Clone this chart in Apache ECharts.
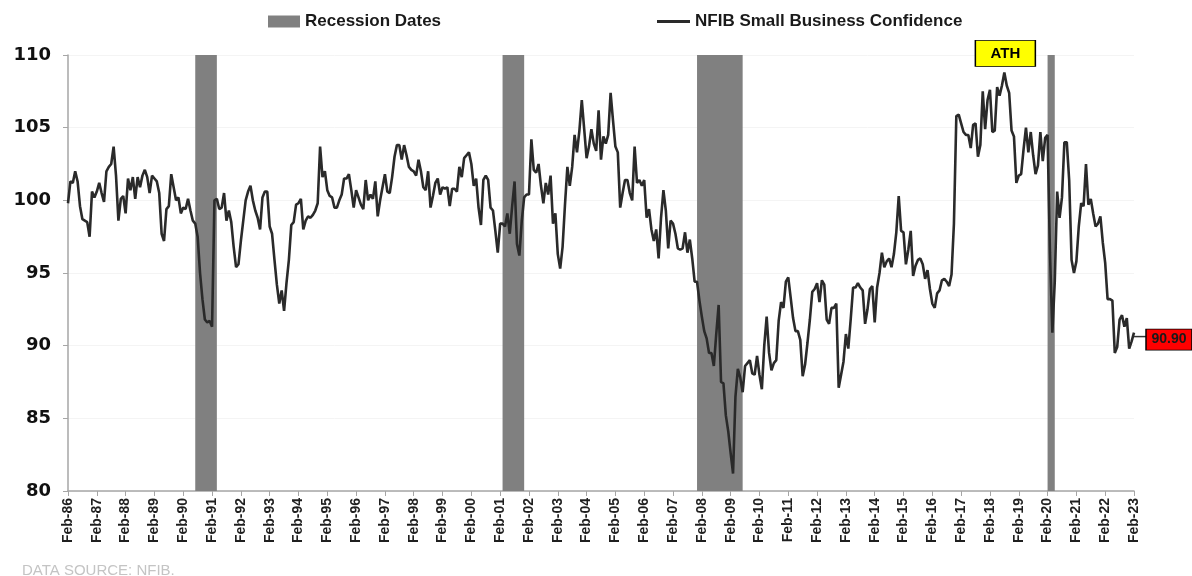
<!DOCTYPE html>
<html>
<head>
<meta charset="utf-8">
<script src="https://cdn.jsdelivr.net/npm/echarts@6/dist/echarts.min.js"></script>
<style>
html,body{margin:0;padding:0;background:#fff;}
#chart{width:1192px;height:576px;}
</style>
</head>
<body>
<div id="chart"></div>
<script>
// NFIB Small Business Confidence, monthly, Feb-86 .. Feb-23
const y1986 = [99.8, 101.3, 101.2, 102.0, 101.3, 99.6, 98.7, 98.6, 98.5, 97.5, 100.6]; // Feb-Dec
const y1987 = [100.2, 100.6, 101.2, 100.5, 99.9, 102.0, 102.3, 102.5, 103.7, 101.7, 98.6, 100.1];
const y1988 = [100.3, 99.1, 101.5, 100.7, 101.6, 100.1, 101.6, 100.9, 101.7, 102.1, 101.6, 100.5];
const y1989 = [101.7, 101.5, 101.3, 100.5, 97.7, 97.2, 99.4, 99.6, 101.8, 100.9, 100.0, 100.2];
const y1990 = [99.1, 99.5, 99.4, 100.1, 99.3, 98.6, 98.4, 97.5, 95.0, 93.2, 91.8, 91.6];
const y1991 = [91.7, 91.3, 100.0, 100.1, 99.4, 99.5, 100.5, 98.6, 99.3, 98.5, 96.8, 95.4];
const y1992 = [95.6, 97.2, 98.6, 100.0, 100.6, 101.0, 100.0, 99.3, 98.8, 98.0, 100.2, 100.6];
const y1993 = [100.6, 98.2, 97.7, 95.9, 94.2, 92.9, 93.8, 92.4, 94.3, 95.9, 98.3, 98.5];
const y1994 = [99.7, 99.8, 100.1, 98.0, 98.6, 98.9, 98.8, 99.0, 99.3, 99.8, 103.7, 101.6];
const y1995 = [102.0, 100.7, 100.3, 100.2, 99.5, 99.5, 100.0, 100.4, 101.5, 101.5, 101.8, 100.7];
const y1996 = [99.5, 100.7, 100.2, 99.7, 99.4, 101.4, 100.0, 100.4, 100.1, 101.3, 98.9, 100.0];
const y1997 = [100.9, 101.8, 100.6, 100.5, 101.6, 103.0, 103.8, 103.8, 102.8, 103.8, 103.1, 102.3];
const y1998 = [102.1, 102.0, 101.7, 102.8, 102.0, 100.9, 100.7, 102.0, 99.5, 100.3, 101.2, 101.5];
const y1999 = [100.4, 100.9, 100.8, 100.9, 99.6, 100.8, 100.8, 100.6, 102.3, 101.6, 102.9, 103.1];
const y2000 = [103.3, 102.5, 101.0, 101.5, 99.5, 98.3, 101.4, 101.7, 101.4, 99.5, 99.3, 97.9];
const y2001 = [96.4, 98.4, 98.4, 98.2, 99.1, 97.7, 99.6, 101.3, 97.0, 96.2, 98.6, 100.2];
const y2002 = [100.4, 100.4, 104.2, 102.1, 101.9, 102.5, 101.0, 99.8, 101.2, 100.4, 101.7, 98.4];
const y2003 = [99.1, 96.3, 95.3, 96.8, 99.7, 102.3, 101.0, 102.3, 104.5, 103.3, 104.8, 106.9];
const y2004 = [104.9, 102.9, 103.7, 104.9, 103.9, 103.4, 106.2, 102.8, 104.4, 103.9, 104.5, 107.4];
const y2005 = [105.5, 103.7, 103.3, 99.5, 100.5, 101.4, 101.4, 100.5, 100.0, 103.7, 101.2, 101.4];
const y2006 = [101.0, 101.4, 98.8, 99.4, 98.0, 97.2, 98.0, 96.0, 98.8, 100.7, 99.3, 96.7];
const y2007 = [98.6, 98.4, 97.7, 96.7, 96.6, 96.7, 97.8, 96.4, 97.3, 96.0, 94.4, 94.4];
const y2008 = [93.1, 92.0, 91.0, 90.5, 89.5, 89.5, 88.6, 90.8, 92.8, 87.5, 87.4, 85.2];
const y2009 = [84.1, 82.6, 81.2, 86.5, 88.4, 87.8, 86.8, 88.6, 88.8, 89.0, 88.1, 88.0];
const y2010 = [89.3, 88.0, 87.0, 90.0, 92.0, 89.5, 88.3, 88.8, 89.0, 91.7, 93.0, 92.6];
const y2011 = [94.4, 94.7, 93.3, 91.9, 91.0, 91.0, 90.4, 87.9, 88.7, 90.2, 91.8, 93.7];
const y2012 = [93.9, 94.3, 93.0, 94.5, 94.2, 91.8, 91.5, 92.6, 92.6, 92.9, 87.1, 88.0];
const y2013 = [88.9, 90.8, 89.8, 91.8, 94.0, 94.0, 94.3, 94.0, 93.8, 91.5, 92.5, 93.9];
const y2014 = [94.1, 91.6, 94.0, 95.0, 96.4, 95.4, 95.8, 96.0, 95.4, 96.3, 97.8, 100.3];
const y2015 = [97.9, 97.8, 95.6, 96.6, 97.9, 94.8, 95.5, 95.9, 96.0, 95.6, 94.6, 95.2];
const y2016 = [93.9, 92.9, 92.6, 93.6, 93.8, 94.5, 94.6, 94.4, 94.1, 94.9, 98.4, 105.8];
const y2017 = [105.9, 105.3, 104.7, 104.5, 104.5, 103.6, 105.2, 105.3, 103.0, 103.8, 107.5, 104.9];
const y2018 = [106.9, 107.6, 104.7, 104.8, 107.8, 107.2, 107.9, 108.8, 107.9, 107.4, 104.8, 104.4];
const y2019 = [101.2, 101.7, 101.8, 103.5, 105.0, 103.3, 104.7, 103.1, 101.8, 102.4, 104.7, 102.7];
const y2020 = [104.3, 104.5, 96.4, 90.9, 94.4, 100.6, 98.8, 100.2, 104.0, 104.0, 101.4, 95.9];
const y2021 = [95.0, 95.8, 98.2, 99.8, 99.6, 102.5, 99.7, 100.1, 99.1, 98.2, 98.4, 98.9];
const y2022 = [97.1, 95.7, 93.2, 93.2, 93.1, 89.5, 89.9, 91.8, 92.1, 91.3, 91.9, 89.8];
const y2023 = [90.3, 90.9]; // Jan-Feb

// Recession periods (first and last month)
const recessions = [['Jul-90', 'Mar-91'], ['Mar-01', 'Nov-01'], ['Dec-07', 'Jun-09'], ['Feb-20', 'Apr-20']];

const yTicks = { min: 80, max: 110, interval: 5 };

const confidence = [].concat(y1986, y1987, y1988, y1989, y1990, y1991, y1992, y1993, y1994, y1995,
  y1996, y1997, y1998, y1999, y2000, y2001, y2002, y2003, y2004, y2005, y2006, y2007, y2008, y2009,
  y2010, y2011, y2012, y2013, y2014, y2015, y2016, y2017, y2018, y2019, y2020, y2021, y2022, y2023);

const MN = ['Jan','Feb','Mar','Apr','May','Jun','Jul','Aug','Sep','Oct','Nov','Dec'];
const months = confidence.map((_, k) => {
  const m = (1 + k) % 12;
  const yr = 1986 + Math.floor((1 + k) / 12);
  return MN[m] + '-' + String(yr % 100).padStart(2, '0');
});

const recessionSpans = recessions.map(([s, e]) => [months.indexOf(s), months.indexOf(e)]);

const lastIdx = confidence.length - 1;
const lastVal = confidence[lastIdx];

const legendText = { fontFamily: 'Liberation Sans', fontWeight: 'bold', fontSize: 17, color: '#1a1a1a' };

const chart = echarts.init(document.getElementById('chart'), null, { renderer: 'canvas' });
chart.setOption({
  animation: false,
  backgroundColor: '#ffffff',
  grid: { left: 68, right: 58, top: 55, bottom: 85, containLabel: false },
  legend: [
    {
      data: ['Recession Dates'], left: 263, top: 8,
      icon: 'rect', itemWidth: 32, itemHeight: 12, itemGap: 4,
      textStyle: legendText
    },
    {
      data: ['NFIB Small Business Confidence'], left: 652, top: 8,
      icon: 'rect', itemWidth: 33, itemHeight: 3, itemGap: 4,
      textStyle: legendText
    }
  ],
  xAxis: {
    type: 'category',
    data: months,
    boundaryGap: false,
    axisLine: { lineStyle: { color: '#a6a6a6', width: 1.5 } },
    axisTick: { interval: 11, length: 5, lineStyle: { color: '#a6a6a6' } },
    axisLabel: {
      interval: 11, rotate: 90, margin: 7,
      fontFamily: 'Liberation Sans', fontSize: 14, fontWeight: 'bold', color: '#1f1f1f'
    },
    splitLine: { show: false }
  },
  yAxis: {
    type: 'value',
    min: yTicks.min, max: yTicks.max, interval: yTicks.interval,
    axisLine: { show: true, lineStyle: { color: '#a6a6a6', width: 1.5 } },
    axisTick: { show: true, length: 5, lineStyle: { color: '#a6a6a6' } },
    axisLabel: { margin: 17, fontFamily: 'DejaVu Sans', fontSize: 18, fontWeight: 'bold', color: '#111' },
    splitLine: { show: true, lineStyle: { color: '#f4f4f4', width: 1 } }
  },
  series: [
    {
      name: 'Recession Dates',
      type: 'custom',
      data: recessionSpans,
      encode: { x: [0, 1] },
      itemStyle: { color: '#808080' },
      z: 1,
      silent: true,
      renderItem: (params, api) => {
        // each month occupies a full slot: extend half a month on either side
        const p0 = api.coord([api.value(0) - 0.5, yTicks.max]);
        const p1 = api.coord([api.value(1) + 0.5, yTicks.min]);
        return {
          type: 'rect',
          shape: { x: p0[0], y: p0[1], width: p1[0] - p0[0], height: p1[1] - p0[1] },
          style: { fill: '#808080' }
        };
      }
    },
    {
      name: 'NFIB Small Business Confidence',
      type: 'line',
      data: confidence,
      showSymbol: false,
      symbol: 'none',
      lineStyle: { color: '#2a2a2a', width: 2.6 },
      itemStyle: { color: '#2a2a2a' },
      z: 3,
      markPoint: {
        silent: true,
        data: [
          {
            type: 'max', name: 'ATH',
            symbol: 'rect', symbolSize: [60, 26], symbolOffset: [1, -19],
            itemStyle: { color: '#ffff00', borderColor: '#000', borderWidth: 1 },
            label: { show: true, position: 'inside', formatter: 'ATH', color: '#000',
              fontFamily: 'Liberation Sans', fontWeight: 'bold', fontSize: 15 }
          },
          {
            coord: [lastIdx, lastVal],
            symbol: 'rect', symbolSize: [13, 1.5], symbolOffset: [6.5, 4],
            itemStyle: { color: '#333' },
            label: { show: false }
          },
          {
            coord: [lastIdx, lastVal],
            symbol: 'rect', symbolSize: [46, 21], symbolOffset: [35, 7],
            itemStyle: { color: '#ff0000', borderColor: '#000', borderWidth: 1 },
            label: { show: true, position: 'inside', formatter: lastVal.toFixed(2), color: '#1a1a1a',
              fontFamily: 'Liberation Sans', fontWeight: 'bold', fontSize: 14 }
          }
        ]
      }
    }
  ],
  graphic: [
    {
      type: 'text', left: 22, top: 563,
      style: { text: 'DATA SOURCE: NFIB.', fill: '#c4c4c4', font: '15px "Liberation Sans"' }
    }
  ]
});
</script>
</body>
</html>
